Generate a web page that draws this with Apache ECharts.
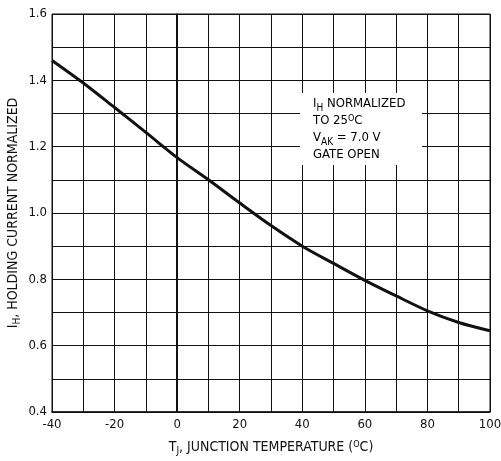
<!DOCTYPE html>
<html>
<head>
<meta charset="utf-8">
<script src="https://cdn.jsdelivr.net/npm/echarts@6/dist/echarts.min.js"></script>
<style>
    html, body { margin: 0; padding: 0; background: #fff; }
    #chart { width: 501px; height: 461px; }
</style>
</head>
<body>
<div id="chart"></div>
<script>
// data
let temps = [-40, -30, -20, -10, 0, 10, 20, 30, 40, 50, 60, 70, 80, 90, 100];
let holding = [1.46, 1.392, 1.318, 1.243, 1.167, 1.10, 1.03, 0.962, 0.90, 0.848, 0.797, 0.75, 0.705, 0.67, 0.645];
let xTicks = [-40, -20, 0, 20, 40, 60, 80, 100];
let yTicks = ['0.4', '0.6', '0.8', '1.0', '1.2', '1.4', '1.6'];
let noteLines = [
    '{n|I}{sub|H}{n| NORMALIZED}',
    '{n|TO 25}{sup|O}{n|C}',
    '{n|V}{sub|AK}{n| = 7.0 V}',
    '{n|GATE OPEN}'
];

let font = "'DejaVu Sans Condensed', 'Liberation Sans', sans-serif";
let ink = '#111';

let richText = {
    n: { fontFamily: font, fontSize: 14, color: ink, lineHeight: 15, verticalAlign: 'top' },
    sub: { fontFamily: font, fontSize: 10, color: ink, lineHeight: 10, padding: [6, 0, 0, 0], verticalAlign: 'top' },
    sup: { fontFamily: font, fontSize: 9, color: ink, lineHeight: 9, verticalAlign: 'top' }
};

let chart = echarts.init(document.getElementById('chart'), null, { renderer: 'canvas' });

let points = temps.map(function(t, i) {
    return [t, holding[i]];
});

let options = {
    animation: false,
    backgroundColor: '#fff',
    grid: {
        left: 52,
        right: 11,
        top: 14,
        bottom: 49,
        outerBoundsMode: 'none',
        containLabel: false,
        show: true,
        borderColor: ink,
        borderWidth: 1
    },
    xAxis: {
        type: 'value',
        min: -40,
        max: 100,
        interval: 10,
        name: '{n|T}{sub|J}{n|, JUNCTION TEMPERATURE (}{sup|O}{n|C)}',
        nameLocation: 'middle',
        nameGap: 28,
        nameMoveOverlap: false,
        nameTextStyle: { rich: richText },
        axisLine: { show: true, lineStyle: { color: ink, width: 1.5 } },
        axisTick: { show: false },
        axisLabel: {
            margin: 6,
            fontFamily: font,
            fontSize: 13,
            color: ink,
            formatter: function(v) {
                return xTicks.indexOf(v) >= 0 ? String(v) : '';
            }
        },
        splitLine: { show: true, lineStyle: { color: ink, width: 1 } }
    },
    yAxis: {
        type: 'value',
        min: 0.4,
        max: 1.6,
        interval: 0.1,
        name: '{n|I}{sub|H}{n|, HOLDING CURRENT NORMALIZED}',
        nameLocation: 'middle',
        nameGap: 31,
        nameMoveOverlap: false,
        nameTextStyle: { rich: richText },
        axisLine: { show: true, lineStyle: { color: ink, width: 1.5 } },
        axisTick: { show: false },
        axisLabel: {
            margin: 5,
            fontFamily: font,
            fontSize: 13,
            color: ink,
            formatter: function(v) {
                let s = v.toFixed(1);
                return yTicks.indexOf(s) >= 0 ? s : '';
            }
        },
        splitLine: { show: true, lineStyle: { color: ink, width: 1 } }
    },
    series: [
        {
            type: 'line',
            data: points,
            smooth: 0.3,
            symbol: 'none',
            lineStyle: { color: ink, width: 3 },
            markLine: {
                silent: true,
                symbol: 'none',
                label: { show: false },
                lineStyle: { color: ink, width: 2, type: 'solid' },
                data: [{ xAxis: 0 }]
            }
        }
    ],
    graphic: [
        {
            type: 'rect',
            left: 300,
            top: 93,
            shape: { width: 122, height: 72 },
            style: { fill: '#fff' },
            z: 10
        },
        {
            type: 'text',
            left: 313,
            top: 97,
            z: 11,
            style: {
                text: noteLines.join('\n'),
                rich: {
                    n: { fontFamily: font, fontSize: 13, color: ink, lineHeight: 17, verticalAlign: 'top', padding: [0, 0, 3, 0] },
                    sub: { fontFamily: font, fontSize: 10, color: ink, lineHeight: 10, padding: [6, 0, 0, 0], verticalAlign: 'top' },
                    sup: { fontFamily: font, fontSize: 9, color: ink, lineHeight: 9, verticalAlign: 'top' }
                }
            }
        }
    ]
};

chart.setOption(options);
</script>
</body>
</html>
